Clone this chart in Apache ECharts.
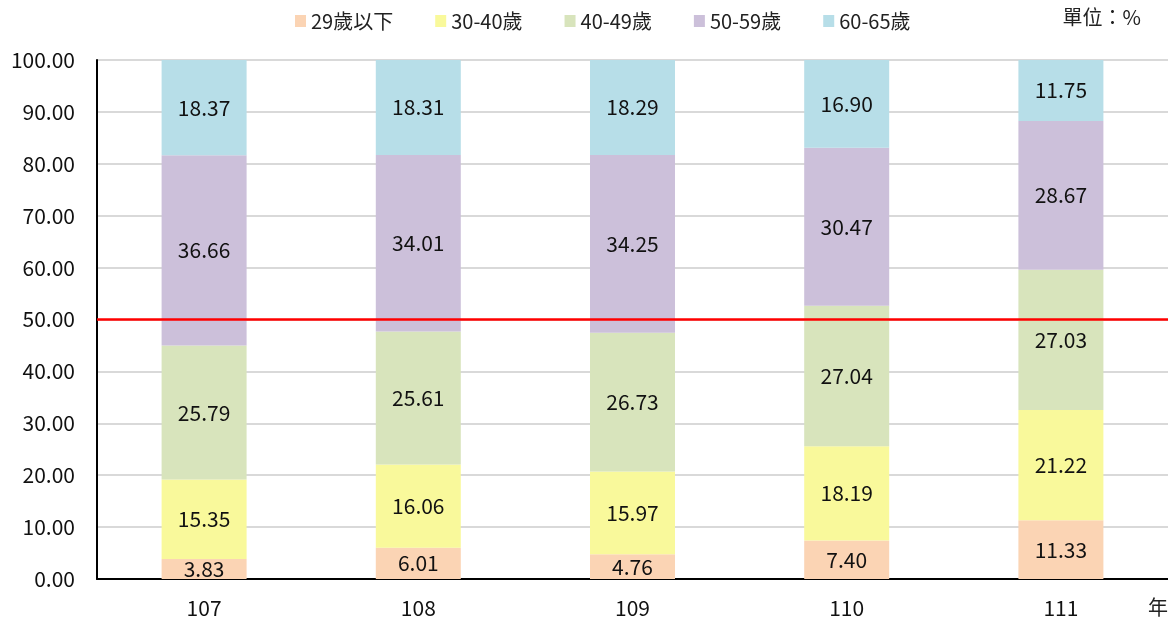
<!DOCTYPE html>
<html>
<head>
<meta charset="utf-8">
<script src="https://cdn.jsdelivr.net/npm/echarts@6/dist/echarts.min.js"></script>
<style>
  html, body { margin: 0; padding: 0; background: #fff; }
  #chart { width: 1168px; height: 623px; }
</style>
</head>
<body>
<div id="chart"></div>
<script>
const years = ["107", "108", "109", "110", "111"];
const age29Below = [3.83, 6.01, 4.76, 7.40, 11.33];
const age30to40 = [15.35, 16.06, 15.97, 18.19, 21.22];
const age40to49 = [25.79, 25.61, 26.73, 27.04, 27.03];
const age50to59 = [36.66, 34.01, 34.25, 30.47, 28.67];
const age60to65 = [18.37, 18.31, 18.29, 16.90, 11.75];
const yTicks = [0, 10, 20, 30, 40, 50, 60, 70, 80, 90, 100];
const refLine = 50;

const font = '"Noto Sans CJK TC", "Noto Sans", sans-serif';

function makeSeries(name, data, color) {
  return {
    name: name,
    type: "bar",
    stack: "total",
    data: data,
    barWidth: 85,
    itemStyle: { color: color },
    label: {
      show: true,
      position: "inside",
      color: "#111",
      fontSize: 21,
      fontFamily: font,
      formatter: p => p.value.toFixed(2)
    }
  };
}

const chart = echarts.init(document.getElementById("chart"));
const series = [
  makeSeries("29歲以下", age29Below, "#fbd4b4"),
  makeSeries("30-40歲", age30to40, "#f9f99b"),
  makeSeries("40-49歲", age40to49, "#d8e4bc"),
  makeSeries("50-59歲", age50to59, "#ccc0da"),
  makeSeries("60-65歲", age60to65, "#b7dee8")
];
// red reference line across the plot
series[4].markLine = {
  symbol: "none",
  silent: true,
  label: { show: false },
  lineStyle: { color: "#ff0000", width: 2.5, type: "solid" },
  data: [{ yAxis: refLine }]
};

chart.setOption({
  animation: false,
  textStyle: { fontFamily: font },
  legend: {
    top: 6,
    left: 290,
    itemWidth: 11,
    itemHeight: 12,
    itemGap: 42,
    icon: "rect",
    textStyle: { fontSize: 20, color: "#222", fontFamily: font },
    data: series.map(s => s.name)
  },
  grid: { left: 97, right: 0, top: 60, bottom: 44, containLabel: false },
  xAxis: {
    type: "category",
    data: years,
    axisLine: { lineStyle: { color: "#000", width: 2 } },
    axisTick: { show: false },
    axisLabel: { color: "#111", fontSize: 21, margin: 19, fontFamily: font }
  },
  yAxis: {
    type: "value",
    min: yTicks[0],
    max: yTicks[yTicks.length - 1],
    interval: 10,
    axisLine: { show: true, lineStyle: { color: "#000", width: 2 } },
    axisTick: { show: false },
    axisLabel: {
      color: "#111",
      fontSize: 21,
      margin: 22,
      fontFamily: font,
      formatter: v => v.toFixed(2)
    },
    splitLine: { lineStyle: { color: "#d9d9d9", width: 2 } }
  },
  graphic: [
    {
      type: "text",
      right: 27,
      top: 7,
      style: { text: "單位：%", fontSize: 20, fill: "#222", fontFamily: font }
    },
    {
      type: "text",
      left: 1148,
      top: 597,
      style: { text: "年", fontSize: 20, fill: "#222", fontFamily: font }
    }
  ],
  series: series
});
</script>
</body>
</html>
